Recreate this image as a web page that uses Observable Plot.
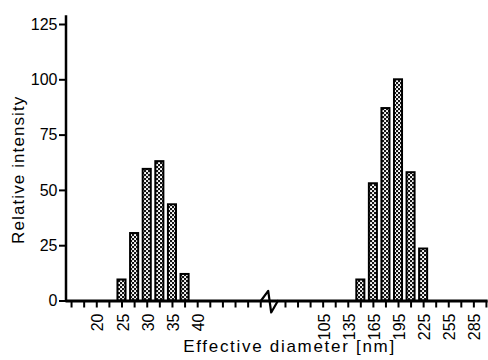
<!DOCTYPE html>
<html><head><meta charset="utf-8">
<script src="https://cdn.jsdelivr.net/npm/d3@7"></script>
<script src="https://cdn.jsdelivr.net/npm/@observablehq/plot@0.6"></script>
<style>body{margin:0;background:#fff}</style>
</head><body><div id="chart"></div>
<script>
// Data
const leftSizes = [25, 27.5, 30, 32.5, 35, 37.5];
const leftValues = [9.5, 30.5, 59.5, 63, 43.5, 12];
const rightSizes = [150, 165, 180, 195, 210, 225];
const rightValues = [9.5, 53, 87, 100, 58, 23.5];
const xTicks = [15, 17.5, 20, 22.5, 25, 27.5, 30, 32.5, 35, 37.5, 40, 42.5, 45, 47.5, 50, 52.5,
                60, 75, 90, 105, 120, 135, 150, 165, 180, 195, 210, 225, 240, 255, 270, 285, 300];
const xLabels = [20, 25, 30, 35, 40, 105, 135, 165, 195, 225, 255, 285];
const yTicks = [0, 25, 50, 75, 100, 125];
const breakX = [52.5, 54.1, 54.85, 56.5];
const breakY = [0, 4.6, -5.2, 0];

const leftData = leftSizes.map((s, i) => ({size: s, value: leftValues[i], hw: 0.8}));
const rightData = rightSizes.map((s, i) => ({size: s, value: rightValues[i], hw: 4.8}));
const bars = leftData.concat(rightData);
const breakData = breakX.map((x, i) => ({x, y: breakY[i]}));

const defs = () => {
  const d = document.createElementNS("http://www.w3.org/2000/svg", "defs");
  d.innerHTML = `<pattern id="chk" width="4" height="4" patternUnits="userSpaceOnUse">
    <rect width="4" height="4" fill="#151515"/>
    <rect x="0.1" y="0.1" width="1.9" height="1.9" fill="#fff"/>
    <rect x="2.1" y="2.1" width="1.9" height="1.9" fill="#fff"/></pattern>`;
  return d;
};

const chart = Plot.plot({
  width: 488, height: 360,
  marginLeft: 66, marginRight: 0, marginTop: 24, marginBottom: 59.5,
  style: {fontFamily: "'Liberation Sans', Arial, sans-serif", fontSize: "16px", color: "#000", background: "#fff"},
  x: {type: "linear", domain: [13.9, 53.5, 58, 302], range: [65.5, 265.3, 283.3, 487.6]},
  y: {domain: [0, 125]},
  marks: [
    defs,
    Plot.rectY(bars, {x1: d => d.size - d.hw, x2: d => d.size + d.hw, y: "value",
      fill: "url(#chk)", stroke: "#000", strokeWidth: 2}),
    Plot.ruleY([0], {x1: 13.9, x2: 302, stroke: "#000", strokeWidth: 2.8}),
    Plot.ruleX([13.9], {y1: 0, y2: 129, stroke: "#000", strokeWidth: 2.5}),
    Plot.axisX(xTicks, {tickSize: 7, strokeWidth: 2, tickFormat: () => "", label: null}),
    Plot.axisX(xLabels, {tickSize: 0, tickPadding: 12.5, tickRotate: -90, fontSize: 16, dx: 1.5, label: null}),
    Plot.axisY(yTicks, {tickSize: 7, strokeWidth: 2, tickPadding: 2, fontSize: 16, label: null}),
    Plot.line(breakData, {x: "x", y: "y", stroke: "#000", strokeWidth: 2.2}),
    Plot.text(["Relative intensity"], {frameAnchor: "left", textAnchor: "middle", dx: -47.5, dy: 7, rotate: -90, fontSize: 17}),
    Plot.text(["Effective diameter [nm]"], {frameAnchor: "bottom", textAnchor: "middle", dx: 12, dy: 51, fontSize: 17})
  ]
});
chart.querySelectorAll("text").forEach(t => {
  if (t.textContent === "Relative intensity") t.style.letterSpacing = "1.1px";
  if (t.textContent === "Effective diameter [nm]") t.style.letterSpacing = "1.7px";
});
document.getElementById("chart").append(chart);
</script>
</body></html>
